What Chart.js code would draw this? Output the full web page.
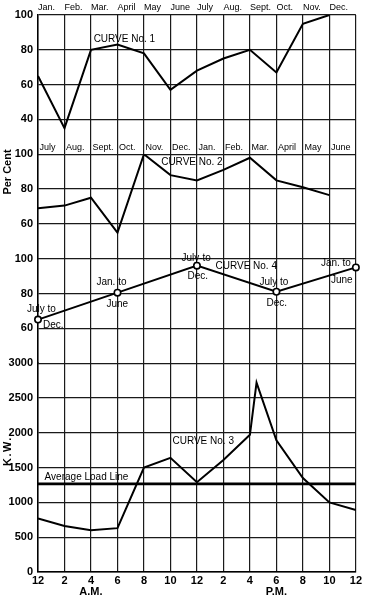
<!DOCTYPE html>
<html>
<head>
<meta charset="utf-8">
<script src="https://cdn.jsdelivr.net/npm/chart.js@4.4.1/dist/chart.umd.min.js"></script>
<style>
html,body{margin:0;padding:0;background:#fff;}
#c{display:block;}
</style>
</head>
<body>
<canvas id="c" width="365" height="600"></canvas>
<script>
// ---- data ----
const hourTicks = ['12','2','4','6','8','10','12','2','4','6','8','10','12'];
const periodLabels = ['','','A.M.','','','','','','','P.M.','','',''];
const monthsCalendar = ['Jan.','Feb.','Mar.','April','May','June','July','Aug.','Sept.','Oct.','Nov.','Dec.'];
const monthsFiscal = ['July','Aug.','Sept.','Oct.','Nov.','Dec.','Jan.','Feb.','Mar.','April','May','June'];
const curve1 = [65,35,80,83,78,57,68,75,80,67,95,100];
const curve2 = [69,70.5,75,55,100,88,85,91,98,85,81,76.5];
const curve4Hours = [0,6,12,18,24];
const curve4 = [65,80.5,96,81,95];
const curve4Labels = [['July to','Dec.'],['Jan. to','June'],['July-to','Dec.'],['July to','Dec.'],['Jan. to','June']];
const loadHours = [0,2,4,6,8,10,12,14,16,16.5,18,20,22,24];
const loadKW = [770,660,600,630,1500,1640,1290,1610,1970,2720,1890,1350,1000,890];
const averageLoad = 1265;
const panel1Ticks = [40,60,80,100];
const panel2Ticks = [60,80,100];
const panel4Ticks = [60,80,100];
const kwTicks = [0,500,1000,1500,2000,2500,3000];
const curveNames = ['CURVE No. 1','CURVE No. 2','CURVE No. 3','CURVE No. 4'];
const avgLabel = 'Average Load Line';
const yTitles = ['Per Cent','K.W.'];

// ---- helpers ----
const HOURS_PER_STEP = 2;
const FONT = 'Liberation Sans, Arial, sans-serif';
const INK = '#000';
const GRID = '#1a1a1a';

function yAxis(ticksArr, min, max, weight, stackWeight){
  return {
    type:'linear', position:'left', stack:'panels', stackWeight, weight,
    min, max,
    afterBuildTicks: s => { s.ticks = ticksArr.map(v => ({value:v})); },
    afterFit: s => { s.width = 38; },
    ticks:{color:INK, padding:5, font:{family:FONT, weight:'bold', size:11}, callback: v => String(v)},
    grid:{color:GRID, lineWidth:1.2, drawTicks:false},
    border:{color:INK, width:1.5}
  };
}

const lineStyle = {borderColor:INK, borderWidth:2, pointRadius:0, tension:0, fill:false};

const notes = {
  id:'notes',
  afterDatasetsDraw(chart){
    const {ctx, scales} = chart;
    const {x, yP1, yP2, yP4, yKW} = scales;
    const px = h => x.getPixelForValue(h);
    ctx.save();
    ctx.fillStyle = INK;
    ctx.textBaseline = 'middle';
    ctx.textAlign = 'left';
    // fiscal month row of curve 2
    ctx.font = '9px ' + FONT;
    monthsFiscal.forEach((m,i) => ctx.fillText(m, px(i*HOURS_PER_STEP)+1.5, yP1.getPixelForValue(24)));
    // curve names
    ctx.font = '10px ' + FONT;
    ctx.fillText(curveNames[0], px(4.2), yP1.getPixelForValue(86.2));
    ctx.fillText(curveNames[1], px(9.3), yP2.getPixelForValue(95.4));
    ctx.fillText(curveNames[2], px(10.15), yKW.getPixelForValue(1883));
    ctx.fillText(curveNames[3], px(13.4), yP4.getPixelForValue(95.6));
    ctx.fillText(avgLabel, px(0.5), yKW.getPixelForValue(1365));
    // curve 4 point labels, placed relative to their points
    const offs = [[[-11,-10],[5,6]],[[-21,-10],[-11,12]],[[-15.5,-7],[-9.5,11]],[[-17,-10],[-10,11]],[[-35,-4],[-25,13]]];
    const meta = chart.getDatasetMeta(2);
    meta.data.forEach((pt,i) => {
      const [a,b] = curve4Labels[i];
      ctx.fillText(a, pt.x + offs[i][0][0], pt.y + offs[i][0][1]);
      ctx.fillText(b, pt.x + offs[i][1][0], pt.y + offs[i][1][1]);
    });
    // axis titles
    ctx.font = 'bold 11px ' + FONT;
    ctx.textAlign = 'center';
    ctx.translate(8, 172); ctx.rotate(-Math.PI/2);
    ctx.fillText(yTitles[0], 0, 0);
    ctx.restore();
    ctx.save();
    ctx.fillStyle = INK; ctx.textBaseline='middle'; ctx.textAlign='center';
    ctx.font = 'bold 11px ' + FONT;
    try { ctx.letterSpacing = '1.5px'; } catch(e) {}
    ctx.translate(8, 451); ctx.rotate(-Math.PI/2);
    ctx.fillText(yTitles[1], 0, 0);
    ctx.restore();
  }
};

new Chart(document.getElementById('c'), {
  type:'line',
  data:{
    datasets:[
      {label:curveNames[0], data:curve1.map((v,i)=>({x:i*HOURS_PER_STEP, y:v})), yAxisID:'yP1', xAxisID:'x', ...lineStyle},
      {label:curveNames[1], data:curve2.map((v,i)=>({x:i*HOURS_PER_STEP, y:v})), yAxisID:'yP2', xAxisID:'x', ...lineStyle},
      {label:curveNames[3], data:curve4.map((v,i)=>({x:curve4Hours[i], y:v})), yAxisID:'yP4', xAxisID:'x', ...lineStyle,
        clip:false, pointRadius:3.2, pointBackgroundColor:'#fff', pointBorderColor:INK, pointBorderWidth:1.6},
      {label:curveNames[2], data:loadKW.map((v,i)=>({x:loadHours[i], y:v})), yAxisID:'yKW', xAxisID:'x', ...lineStyle},
      {label:avgLabel, data:[{x:0,y:averageLoad},{x:24,y:averageLoad}], yAxisID:'yKW', xAxisID:'x', ...lineStyle, borderWidth:2.6}
    ]
  },
  options:{
    responsive:false,
    animation:false,
    layout:{padding:{top:0,right:8,bottom:0,left:0}},
    plugins:{legend:{display:false}, tooltip:{enabled:false}},
    scales:{
      x:{
        type:'linear', position:'bottom', min:0, max:24,
        afterBuildTicks: s => { s.ticks = hourTicks.map((_,i)=>({value:i*HOURS_PER_STEP})); },
        afterFit: s => { s.height = 28; },
        ticks:{autoSkip:false, maxRotation:0, minRotation:0, padding:3, color:INK,
          font:{family:FONT, weight:'bold', size:11, lineHeight:1.0},
          callback:(v,i)=> periodLabels[i] ? [hourTicks[i], periodLabels[i]] : hourTicks[i]},
        grid:{color:GRID, lineWidth:1.2, drawTicks:false},
        border:{color:INK, width:1.5}
      },
      xTop:{
        type:'linear', position:'top', min:0, max:24,
        afterBuildTicks: s => { s.ticks = monthsCalendar.map((_,i)=>({value:i*HOURS_PER_STEP})); },
        afterFit: s => { s.height = 15; },
        ticks:{align:'start', autoSkip:false, maxRotation:0, minRotation:0, padding:2, color:INK,
          font:{family:FONT, size:9}, callback:(v,i)=>monthsCalendar[i]},
        grid:{display:false, drawTicks:false},
        border:{display:false}
      },
      yP1: yAxis(panel1Ticks, 20, 100, 4, 4),
      yP2: yAxis(panel2Ticks, 40, 100, 3, 3),
      yP4: yAxis(panel4Ticks, 40, 100, 2, 3),
      yKW: yAxis(kwTicks, 0, 3000, 1, 6)
    }
  },
  plugins:[notes]
});
</script>
</body>
</html>
